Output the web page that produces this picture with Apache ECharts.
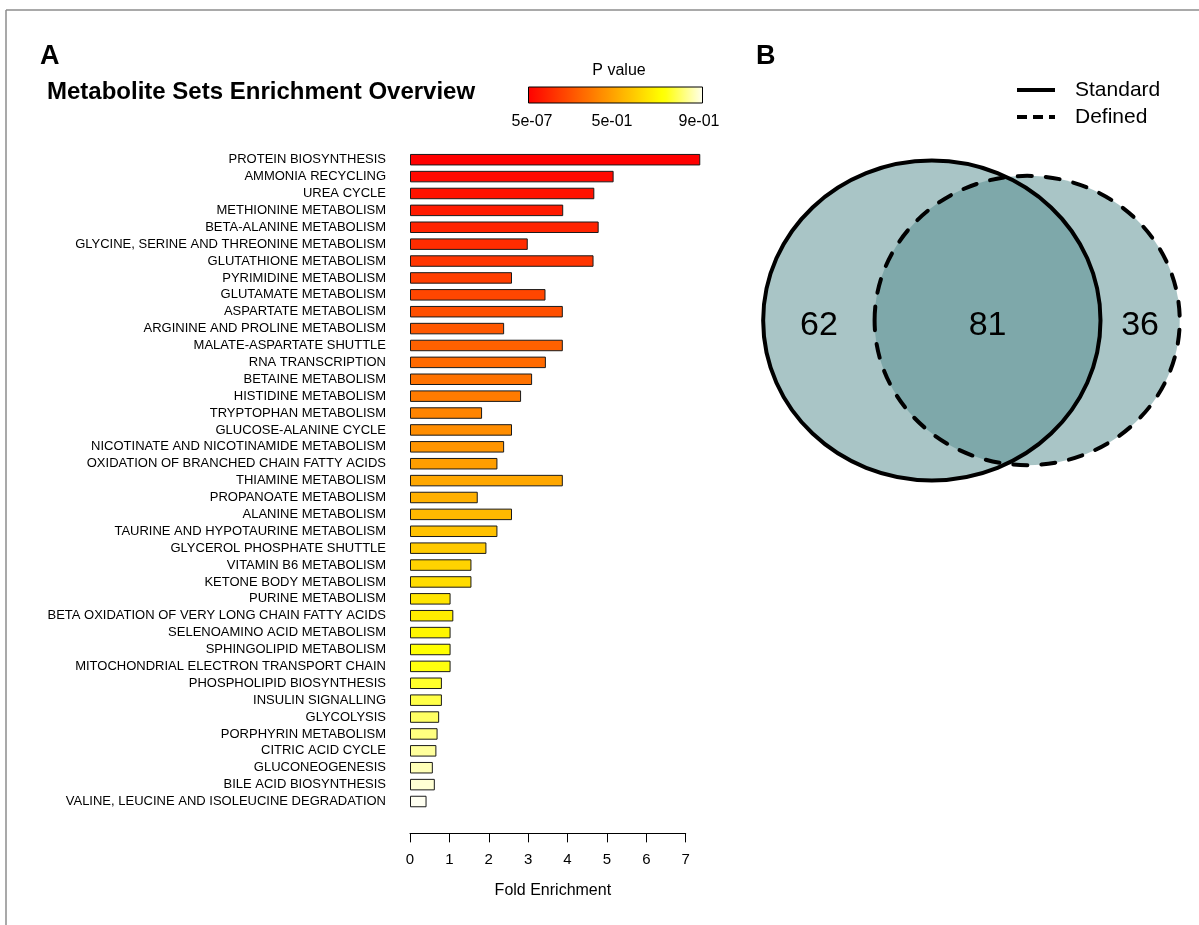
<!DOCTYPE html>
<html><head><meta charset="utf-8">
<script src="https://cdn.jsdelivr.net/npm/echarts@6/dist/echarts.min.js"></script>
<style>html,body{margin:0;padding:0;background:#fff}#c{width:1199px;height:925px}</style>
</head><body><div id="c"></div>
<script>
// ---------- Data ----------
const categories = [
  'PROTEIN BIOSYNTHESIS','AMMONIA RECYCLING','UREA CYCLE','METHIONINE METABOLISM','BETA-ALANINE METABOLISM',
  'GLYCINE, SERINE AND THREONINE METABOLISM','GLUTATHIONE METABOLISM','PYRIMIDINE METABOLISM','GLUTAMATE METABOLISM',
  'ASPARTATE METABOLISM','ARGININE AND PROLINE METABOLISM','MALATE-ASPARTATE SHUTTLE','RNA TRANSCRIPTION',
  'BETAINE METABOLISM','HISTIDINE METABOLISM','TRYPTOPHAN METABOLISM','GLUCOSE-ALANINE CYCLE',
  'NICOTINATE AND NICOTINAMIDE METABOLISM','OXIDATION OF BRANCHED CHAIN FATTY ACIDS','THIAMINE METABOLISM',
  'PROPANOATE METABOLISM','ALANINE METABOLISM','TAURINE AND HYPOTAURINE METABOLISM','GLYCEROL PHOSPHATE SHUTTLE',
  'VITAMIN B6 METABOLISM','KETONE BODY METABOLISM','PURINE METABOLISM','BETA OXIDATION OF VERY LONG CHAIN FATTY ACIDS',
  'SELENOAMINO ACID METABOLISM','SPHINGOLIPID METABOLISM','MITOCHONDRIAL ELECTRON TRANSPORT CHAIN',
  'PHOSPHOLIPID BIOSYNTHESIS','INSULIN SIGNALLING','GLYCOLYSIS','PORPHYRIN METABOLISM','CITRIC ACID CYCLE',
  'GLUCONEOGENESIS','BILE ACID BIOSYNTHESIS','VALINE, LEUCINE AND ISOLEUCINE DEGRADATION'
];
const foldEnrichment = [
  7.37, 5.17, 4.68, 3.89, 4.79, 2.99, 4.66, 2.59, 3.44, 3.88, 2.39, 3.88, 3.45, 3.10, 2.82, 1.83, 2.59, 2.39, 2.22, 3.88,
  1.72, 2.59, 2.22, 1.94, 1.56, 1.56, 1.03, 1.10, 1.03, 1.03, 1.03, 0.81, 0.81, 0.74, 0.70, 0.67, 0.58, 0.63, 0.42
];
const pValueLegendLabels = ['5e-07', '5e-01', '9e-01'];
const vennSetNames = ['Standard', 'Defined'];
const vennOnlyStandard = 62;
const vennBoth = 81;
const vennOnlyDefined = 36;

// ---------- Colours (R heat.colors by rank) ----------
function heatColors(n) {
  const j = Math.floor(n / 4), i = n - j, out = [];
  for (let k = 0; k < i; k++) out.push('rgb(255,' + Math.round(255 * k / (i - 1)) + ',0)');
  const s0 = 1 - 1 / (2 * j), s1 = 1 / (2 * j);
  for (let m = 0; m < j; m++) {
    const s = s0 + m * (s1 - s0) / (j - 1);
    out.push('rgb(255,255,' + Math.round(255 * (1 - s)) + ')');
  }
  return out;
}
const barColors = heatColors(categories.length);

// ---------- Venn geometry (area proportional) ----------
const r1 = Math.sqrt((vennOnlyStandard + vennBoth) / Math.PI);
const r2 = Math.sqrt((vennOnlyDefined + vennBoth) / Math.PI);
function lensArea(d) {
  if (d >= r1 + r2) return 0;
  if (d <= Math.abs(r1 - r2)) return Math.PI * Math.min(r1, r2) ** 2;
  const a1 = Math.acos((d * d + r1 * r1 - r2 * r2) / (2 * d * r1));
  const a2 = Math.acos((d * d + r2 * r2 - r1 * r1) / (2 * d * r2));
  return r1 * r1 * a1 + r2 * r2 * a2 - 0.5 * Math.sqrt((-d + r1 + r2) * (d + r1 - r2) * (d - r1 + r2) * (d + r1 + r2));
}
let lo = Math.abs(r1 - r2), hi = r1 + r2;
for (let k = 0; k < 80; k++) { const mid = (lo + hi) / 2; if (lensArea(mid) > vennBoth) lo = mid; else hi = mid; }
const dist = (lo + hi) / 2;
const c1 = -dist / 2, c2 = dist / 2;
// label positions: middle of each region along the line of centres
const xOnlyStd = ((c1 - r1) + (c2 - r2)) / 2;
const xBoth = ((c2 - r2) + (c1 + r1)) / 2;
const xOnlyDef = ((c1 + r1) + (c2 + r2)) / 2;

const vennCircles = [[c1, 0, r1, 0], [c2, 0, r2, 1]];
const vennLabels = [[xOnlyStd, 0, vennOnlyStandard], [xBoth, 0, vennBoth], [xOnlyDef, 0, vennOnlyDefined]];

// ---------- Chart ----------
const FONT = '"Liberation Sans", Arial, sans-serif';
const chart = echarts.init(document.getElementById('c'));

const gradStops = barColors.map((c, i) => ({ offset: i / (barColors.length - 1), color: c }));
const sx = 25.0, sy = 23.7; // px per venn unit (horizontal / vertical)
const vennCx = 979.5, vennCy = 320.5;

chart.setOption({
  animation: false,
  backgroundColor: '#fff',
  textStyle: { fontFamily: FONT },
  grid: [
    { left: 410, top: 151.25, width: 275.7, height: 658.7, containLabel: false, outerBoundsMode: 'none' },
    { left: vennCx - 8 * sx, width: 16 * sx, top: vennCy - 8 * sy, height: 16 * sy, containLabel: false, outerBoundsMode: 'none' }
  ],
  xAxis: [
    {
      gridIndex: 0, type: 'value', min: 0, max: 7, interval: 1, offset: 23.4,
      axisLine: { show: true, lineStyle: { color: '#000', width: 1 } },
      axisTick: { show: true, length: 9, lineStyle: { color: '#000', width: 1 } },
      splitLine: { show: false },
      axisLabel: { color: '#000', fontSize: 15, margin: 19, fontFamily: FONT },
      name: 'Fold Enrichment', nameLocation: 'middle', nameGap: 49,
      nameTextStyle: { color: '#000', fontSize: 16, fontFamily: FONT, padding: [0, 0, 0, 10] }
    },
    { gridIndex: 1, type: 'value', min: -8, max: 8, show: false }
  ],
  yAxis: [
    {
      gridIndex: 0, type: 'category', data: categories, inverse: true,
      axisLine: { show: false }, axisTick: { show: false }, splitLine: { show: false },
      axisLabel: { color: '#000', fontSize: 13, margin: 24, interval: 0, fontFamily: FONT }
    },
    { gridIndex: 1, type: 'value', min: -8, max: 8, show: false }
  ],
  series: [
    {
      type: 'bar', xAxisIndex: 0, yAxisIndex: 0, data: foldEnrichment, barWidth: 11.5, clip: false, silent: true,
      itemStyle: { color: p => barColors[p.dataIndex], borderColor: '#1a1a1a', borderWidth: 1 }
    },
    {
      type: 'custom', xAxisIndex: 1, yAxisIndex: 1, data: vennCircles, silent: true, clip: false,
      renderItem: (params, api) => {
        const c = api.coord([api.value(0), api.value(1)]);
        const s = api.size([api.value(2), api.value(2)]);
        const dashed = api.value(3) === 1;
        const shape = { cx: c[0], cy: c[1], rx: s[0], ry: s[1] };
        return {
          type: 'group', children: [
            { type: 'ellipse', shape, z2: 1, style: { fill: 'rgba(84,140,142,0.5)', stroke: null } },
            { type: 'ellipse', shape, z2: 10, style: { fill: null, stroke: '#000', lineWidth: 4, lineDash: dashed ? [14, 14] : null, lineCap: 'round' } }
          ]
        };
      }
    },
    {
      type: 'custom', xAxisIndex: 1, yAxisIndex: 1, data: vennLabels, silent: true, clip: false, z: 5,
      renderItem: (params, api) => {
        const c = api.coord([api.value(0), api.value(1)]);
        return {
          type: 'text', z2: 20,
          style: { text: String(api.value(2)), x: c[0], y: c[1] + 5, textAlign: 'center', textVerticalAlign: 'middle',
                   font: '34px ' + FONT, fill: '#000' }
        };
      }
    }
  ],
  graphic: [
    { type: 'line', shape: { x1: 6, y1: 10, x2: 1199, y2: 10 }, style: { stroke: '#8c8c8c', lineWidth: 1.5 } },
    { type: 'line', shape: { x1: 6, y1: 10, x2: 6, y2: 925 }, style: { stroke: '#8c8c8c', lineWidth: 1.5 } },
    { type: 'text', left: 40, top: 43, style: { text: 'A', font: 'bold 27px ' + FONT, fill: '#000' } },
    { type: 'text', left: 756, top: 43, style: { text: 'B', font: 'bold 27px ' + FONT, fill: '#000' } },
    { type: 'text', x: 47, y: 92, style: { text: 'Metabolite Sets Enrichment Overview', font: 'bold 24px ' + FONT, fill: '#000', textVerticalAlign: 'middle' } },
    { type: 'text', x: 619, y: 71, style: { text: 'P value', font: '16px ' + FONT, fill: '#000', textAlign: 'center', textVerticalAlign: 'middle' } },
    { type: 'rect', shape: { x: 528.5, y: 87, width: 174, height: 16 },
      style: { fill: new echarts.graphic.LinearGradient(0, 0, 1, 0, gradStops), stroke: '#000', lineWidth: 1 } },
    { type: 'text', x: 532, y: 121.5, style: { text: pValueLegendLabels[0], font: '16px ' + FONT, fill: '#000', textAlign: 'center', textVerticalAlign: 'middle' } },
    { type: 'text', x: 612, y: 121.5, style: { text: pValueLegendLabels[1], font: '16px ' + FONT, fill: '#000', textAlign: 'center', textVerticalAlign: 'middle' } },
    { type: 'text', x: 699, y: 121.5, style: { text: pValueLegendLabels[2], font: '16px ' + FONT, fill: '#000', textAlign: 'center', textVerticalAlign: 'middle' } },
    { type: 'line', shape: { x1: 1017, y1: 90, x2: 1055, y2: 90 }, style: { stroke: '#000', lineWidth: 4 } },
    { type: 'line', shape: { x1: 1017, y1: 117, x2: 1055, y2: 117 }, style: { stroke: '#000', lineWidth: 4, lineDash: [10, 6] } },
    { type: 'text', x: 1075, y: 90, style: { text: vennSetNames[0], font: '21px ' + FONT, fill: '#000', textVerticalAlign: 'middle' } },
    { type: 'text', x: 1075, y: 117, style: { text: vennSetNames[1], font: '21px ' + FONT, fill: '#000', textVerticalAlign: 'middle' } }
  ]
});
</script>
</body></html>
